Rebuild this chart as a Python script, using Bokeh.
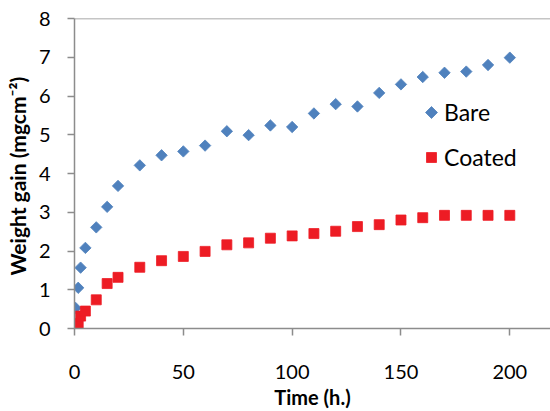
from bokeh.plotting import figure
from bokeh.models import Range1d, FixedTicker, Span, Legend, LegendItem, CustomJS
from bokeh.embed import file_html
from bokeh.resources import INLINE

# Data (time in hours, weight gain in mg/cm^2)
time_h = [0.5, 1.7, 2.8, 5, 10, 15, 20, 30, 40, 50, 60, 70, 80, 90, 100,
          110, 120, 130, 140, 150, 160, 170, 180, 190, 200]
bare = [0.53, 1.05, 1.57, 2.08, 2.61, 3.14, 3.68, 4.21, 4.47, 4.57, 4.72, 5.09,
        4.99, 5.24, 5.20, 5.55, 5.79, 5.73, 6.08, 6.30, 6.49, 6.60, 6.63, 6.80, 6.99]
coated = [0.08, 0.13, 0.32, 0.45, 0.74, 1.16, 1.32, 1.58, 1.75, 1.86, 1.99, 2.16,
          2.21, 2.33, 2.39, 2.45, 2.51, 2.63, 2.68, 2.80, 2.86, 2.92, 2.92, 2.92, 2.92]
x_ticks = [0, 50, 100, 150, 200]
y_ticks = [0, 1, 2, 3, 4, 5, 6, 7, 8]

FONT = "Lato"
AXIS_COLOR = "#8C8C8C"

# Excel-like markers: square-ish diamond and square (drawn directly so the legend matches)
rhomb = CustomJS(code="""
export default (args, obj, {ctx, i, r, visuals}) => {
  const h = 1.5*r
  ctx.beginPath()
  ctx.moveTo(0, -h)
  ctx.lineTo(h, 0)
  ctx.lineTo(0, h)
  ctx.lineTo(-h, 0)
  ctx.closePath()
  visuals.fill.apply(ctx, i)
  visuals.line.apply(ctx, i)
}
""")
box = CustomJS(code="""
export default (args, obj, {ctx, i, r, visuals}) => {
  const h = 1.25*r
  ctx.beginPath()
  ctx.rect(-h, -h, 2*h, 2*h)
  visuals.fill.apply(ctx, i)
  visuals.line.apply(ctx, i)
}
""")

p = figure(width=550, height=411, output_backend="svg", toolbar_location=None,
           x_range=Range1d(0, 218.7), y_range=Range1d(0, 8),
           min_border_left=74, min_border_right=0, min_border_top=18, min_border_bottom=83)
p.outline_line_color = None
p.background_fill_color = "white"
p.border_fill_color = "white"
p.xgrid.visible = False
p.ygrid.visible = False

r_bare = p.scatter(time_h, bare, marker="@rhomb", defs={"@rhomb": rhomb}, size=7.6,
                   fill_color="#4F81BD", line_color="#4F81BD", line_width=0.8)
r_coat = p.scatter(time_h, coated, marker="@box", defs={"@box": box}, size=8.0,
                   fill_color="#ED1C24", line_color="#ED1C24", line_width=0.8)

p.add_layout(Span(location=8, dimension="width", line_color=AXIS_COLOR, line_width=1.5))

for ax, ticks in ((p.xaxis[0], x_ticks), (p.yaxis[0], y_ticks)):
    ax.ticker = FixedTicker(ticks=ticks)
    ax.minor_tick_line_color = None
    ax.major_tick_in = 0
    ax.major_tick_out = 7
    ax.major_tick_line_color = AXIS_COLOR
    ax.major_tick_line_width = 1.5
    ax.axis_line_color = AXIS_COLOR
    ax.axis_line_width = 1.5
    ax.major_label_text_font = FONT
    ax.major_label_text_font_size = "20px"
    ax.major_label_text_color = "black"
    ax.axis_label_text_font = FONT
    ax.axis_label_text_font_size = "20px"
    ax.axis_label_text_font_style = "bold"
    ax.axis_label_text_color = "black"

p.xaxis.axis_label = "Time (h.)"
p.xaxis.major_label_standoff = 29
p.xaxis.axis_label_standoff = 3
p.yaxis.axis_label = "Weight  gain (mgcm\u207b\u00b2)"
p.yaxis.axis_label_text_font_size = "21px"
p.yaxis.major_label_standoff = 17
p.yaxis.axis_label_standoff = 6

legend = Legend(items=[LegendItem(label="Bare", renderers=[r_bare]),
                       LegendItem(label="Coated", renderers=[r_coat])],
                location=(347, 156), orientation="vertical",
                glyph_width=20, glyph_height=30, label_height=30,
                label_standoff=3, spacing=15, padding=0, margin=0,
                label_text_font=FONT, label_text_font_size="23px",
                label_text_color="black",
                border_line_color=None, background_fill_alpha=0)
p.add_layout(legend)

open("out.html", "w").write(file_html(p, INLINE))
